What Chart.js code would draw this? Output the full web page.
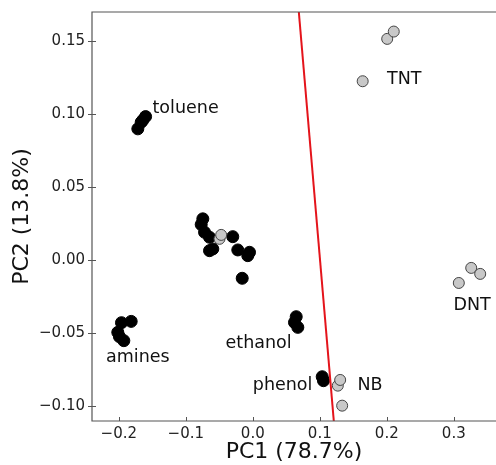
<!DOCTYPE html>
<html>
<head>
<meta charset="utf-8">
<script src="https://cdn.jsdelivr.net/npm/chart.js@4"></script>
<style>
    html, body { margin: 0; padding: 0; background: #fff; overflow: hidden; }
    #wrapper { width: 496px; height: 465px; position: relative; }
</style>
</head>
<body>
<div id="wrapper"><canvas id="pca"></canvas></div>
<script>
// samples (black = interferents, gray = explosives)
const blackX = [-0.1716, -0.1666, -0.1640, -0.1600,
    -0.0746, -0.0770, -0.0720, -0.0646, -0.0597, -0.0646, -0.0299, -0.0224, -0.0049, -0.0075, -0.0158,
    -0.1815, -0.1960, -0.2015, -0.1990, -0.1925,
    0.0648, 0.0622, 0.0672,
    0.1036, 0.1055];
const blackY = [0.0900, 0.0945, 0.0960, 0.0984,
    0.0284, 0.0245, 0.0192, 0.0158, 0.0078, 0.0066, 0.0162, 0.0071, 0.0055, 0.0032, -0.0123,
    -0.0418, -0.0427, -0.0493, -0.0523, -0.0550,
    -0.0386, -0.0425, -0.0459,
    -0.0797, -0.0824];

const grayX = [0.1640, 0.2006, 0.2104, -0.0497, -0.0472, 0.1269, 0.1304, 0.1334, 0.3075, 0.3260, 0.3394];
const grayY = [0.1226, 0.1516, 0.1566, 0.0147, 0.0174, -0.0858, -0.0819, -0.0995, -0.0155, -0.0052, -0.0093];

// separating line
const lineX = [0.0687, 0.1209];
const lineY = [0.170, -0.110];

const xTicks = [-0.2, -0.1, 0.0, 0.1, 0.2, 0.3];
const yTicks = [-0.10, -0.05, 0.00, 0.05, 0.10, 0.15];

const groupNames = ['toluene', 'TNT', 'amines', 'ethanol', 'phenol', 'NB', 'DNT'];
const groupX = [-0.1497, 0.2003, -0.2191, -0.0407, 0.0000, 0.1563, 0.2996];
const groupY = [0.1039, 0.1238, -0.0666, -0.0571, -0.0858, -0.0858, -0.0310];

function pts(xs, ys) {
    return xs.map((x, i) => ({ x: x, y: ys[i] }));
}

function fmt(v, d) {
    const s = Math.abs(v).toFixed(d);
    return v < -1e-9 ? '\u2212' + s : s;
}

// keep the plot box where it is, no room reserved for edge labels
function noPad(scale) {
    scale.paddingLeft = 0;
    scale.paddingRight = 0;
    scale.paddingTop = 0;
    scale.paddingBottom = 0;
}

Chart.defaults.font.family = "'DejaVu Sans', sans-serif";
Chart.defaults.color = '#222';

// frame, tick marks and the group names
const decorations = {
    id: 'decorations',
    afterDatasetsDraw(chart) {
        const ctx = chart.ctx;
        const a = chart.chartArea;
        const xs = chart.scales.x, ys = chart.scales.y;
        ctx.save();
        ctx.strokeStyle = '#555';
        ctx.lineWidth = 1.2;
        ctx.beginPath();
        ctx.moveTo(chart.width, a.top);
        ctx.lineTo(a.left, a.top);
        ctx.lineTo(a.left, a.bottom);
        ctx.lineTo(chart.width, a.bottom);
        ctx.stroke();

        ctx.lineWidth = 1;
        ctx.beginPath();
        xTicks.forEach(v => {
            const px = Math.round(xs.getPixelForValue(v)) + 0.5;
            ctx.moveTo(px, a.bottom);
            ctx.lineTo(px, a.bottom - 4);
        });
        yTicks.forEach(v => {
            const py = Math.round(ys.getPixelForValue(v)) + 0.5;
            ctx.moveTo(a.left - 4, py);
            ctx.lineTo(a.left + 4, py);
        });
        ctx.stroke();

        ctx.fillStyle = '#111';
        ctx.font = "17.5px 'DejaVu Sans'";
        ctx.textAlign = 'left';
        ctx.textBaseline = 'middle';
        groupNames.forEach((name, i) => {
            ctx.fillText(name, xs.getPixelForValue(groupX[i]), ys.getPixelForValue(groupY[i]));
        });
        ctx.restore();
    }
};

new Chart(document.getElementById('pca'), {
    type: 'scatter',
    data: {
        datasets: [{
            data: pts(lineX, lineY),
            showLine: true,
            borderColor: '#e4141b',
            borderWidth: 2,
            pointRadius: 0,
            order: 0
        }, {
            data: pts(grayX, grayY),
            backgroundColor: '#c8c8c8',
            borderColor: '#444',
            borderWidth: 1,
            pointRadius: 5.5,
            order: 1
        }, {
            data: pts(blackX, blackY),
            backgroundColor: '#000',
            borderColor: '#000',
            borderWidth: 1,
            pointRadius: 6,
            order: 2
        }]
    },
    options: {
        responsive: true,
        maintainAspectRatio: false,
        animation: false,
        events: [],
        layout: { autoPadding: false, padding: { top: 12, right: 0, left: 0, bottom: 0 } },
        plugins: {
            legend: { display: false },
            tooltip: { enabled: false }
        },
        scales: {
            x: {
                type: 'linear',
                min: -0.240,
                max: 0.363,
                afterBuildTicks: scale => { scale.ticks = xTicks.map(v => ({ value: v })); },
                afterFit: scale => { scale.height = 44; noPad(scale); },
                border: { display: false },
                grid: { display: false, drawTicks: false, tickLength: 0 },
                ticks: {
                    padding: 4,
                    maxRotation: 0,
                    font: { size: 15 },
                    color: '#222',
                    callback: v => fmt(v, 1)
                },
                title: {
                    display: true,
                    text: 'PC1 (78.7%)',
                    font: { size: 22 },
                    color: '#111',
                    padding: { top: 0, bottom: 0 }
                }
            },
            y: {
                type: 'linear',
                min: -0.110,
                max: 0.170,
                afterBuildTicks: scale => { scale.ticks = yTicks.map(v => ({ value: v })); },
                afterFit: scale => { scale.width = 92; noPad(scale); },
                border: { display: false },
                grid: { display: false, drawTicks: false, tickLength: 0 },
                ticks: {
                    padding: 7,
                    font: { size: 15 },
                    color: '#222',
                    callback: v => fmt(v, 2)
                },
                title: {
                    display: true,
                    text: 'PC2 (13.8%)',
                    font: { size: 22 },
                    color: '#111',
                    padding: { top: 9, bottom: 0 }
                }
            }
        }
    },
    plugins: [decorations]
});
</script>
</body>
</html>
